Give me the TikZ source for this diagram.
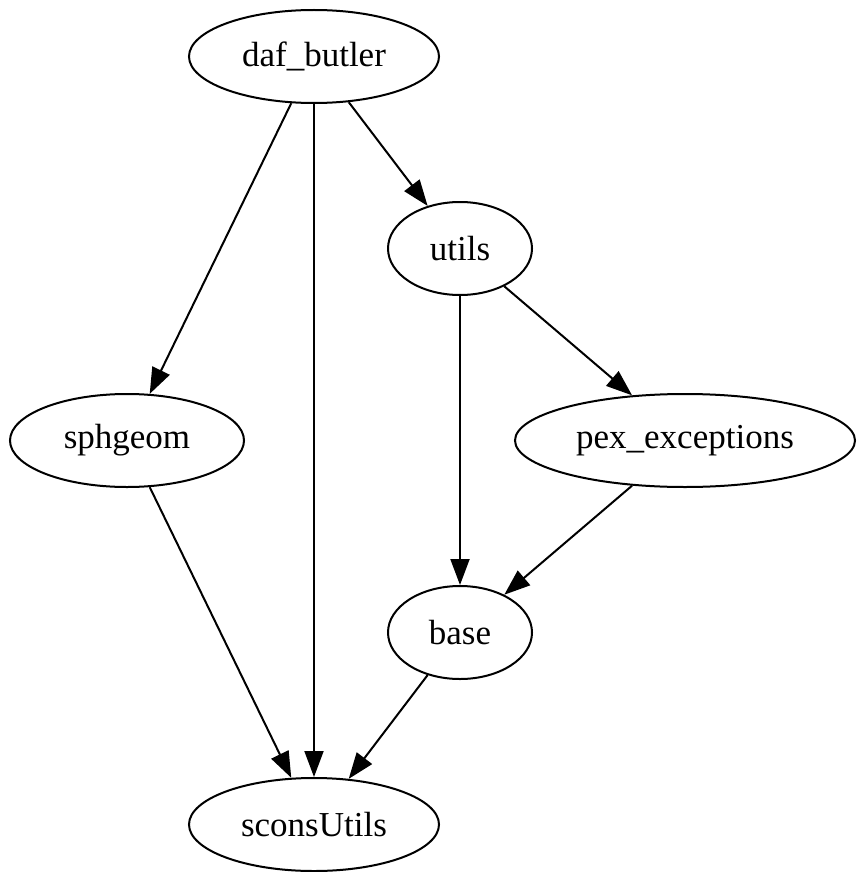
\documentclass[tikz,border=0pt]{standalone}
\usepackage{fontspec}
\setmainfont{Liberation Serif}
\usetikzlibrary{shapes.geometric,arrows.meta}
\begin{document}
\begin{tikzpicture}[x=1pt,y=-1pt,
  pkg/.style={ellipse,draw,line width=2pt,inner sep=0pt,minimum height=93pt,font=\fontsize{35}{42}\selectfont},
  dep/.style={line width=2pt,-{Triangle[length=26pt,width=19pt]}}]
\useasboundingbox (0,0) rectangle (856,872);
\node[pkg,minimum width=250pt] (daf) at (314,56.5) {daf\_butler};
\node[pkg,minimum width=144pt] (utils) at (460,248.5) {utils};
\node[pkg,minimum width=234pt] (sph) at (127,440.5) {sphgeom};
\node[pkg,minimum width=340pt] (pex) at (685,440.5) {pex\_exceptions};
\node[pkg,minimum width=144pt] (base) at (460,632.5) {base};
\node[pkg,minimum width=250pt] (scons) at (314,824.5) {sconsUtils};
\draw[dep] (daf) -- (sph);
\draw[dep] (daf) -- (scons);
\draw[dep] (daf) -- (utils);
\draw[dep] (utils) -- (base);
\draw[dep] (utils) -- (pex);
\draw[dep] (pex) -- (base);
\draw[dep] (sph) -- (scons);
\draw[dep] (base) -- (scons);
\end{tikzpicture}
\end{document}
